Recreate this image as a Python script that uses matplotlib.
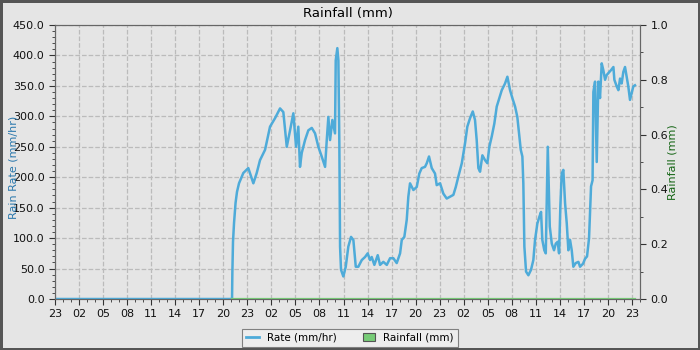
import matplotlib
matplotlib.use('Agg')
import matplotlib.pyplot as plt
from matplotlib.ticker import MultipleLocator, FuncFormatter
from matplotlib.patches import Patch
from matplotlib.lines import Line2D

# hours since 23:00 on day 1
hours = [0, 22.09, 22.13, 22.21, 22.34, 22.53, 22.71, 22.96, 23.50, 24.12, 24.75,
         25.17, 25.58, 26.21, 26.83, 27.46, 28.08, 28.49, 28.92, 29.33, 29.74,
         30.08, 30.36, 30.57, 30.79, 31.20, 31.61, 32.04, 32.45, 32.86, 33.28,
         33.70, 33.91, 34.11, 34.32, 34.61, 34.94, 35.03, 35.23, 35.36, 35.48,
         35.57, 35.69, 35.98, 36.28, 36.60, 36.94, 37.23, 37.53, 37.85, 38.28,
         38.69, 39.02, 39.31, 39.52, 39.85, 40.27, 40.56, 40.97, 41.40, 41.81,
         42.22, 42.64, 43.06, 43.27, 43.59, 43.89, 44.09, 44.30, 44.72, 45.14,
         45.46, 45.76, 46.17, 46.39, 46.67, 47.01, 47.42, 47.63, 48.05, 48.46,
         48.88, 49.29, 49.71, 50.01, 50.33, 50.76, 51.17, 51.45, 51.79, 52.13,
         52.41, 52.62, 52.83, 53.04, 53.33, 53.66, 53.95, 54.20, 54.50, 54.82,
         55.12, 55.45, 55.75, 56.16, 56.45, 56.78, 57.07, 57.41, 57.69, 57.91,
         58.12, 58.32, 58.44, 58.57, 58.78, 59.07, 59.40, 59.69, 59.90, 60.19,
         60.44, 60.65, 60.81, 61.06, 61.24, 61.36, 61.49, 61.61, 61.74, 61.99,
         62.27, 62.49, 62.73, 62.90, 63.06, 63.23, 63.43, 63.65, 63.86, 64.06,
         64.27, 64.48, 64.68, 64.98, 65.31, 65.52, 65.89, 66.14, 66.39, 66.64,
         66.89, 67.08, 67.18, 67.39, 67.60, 67.80, 68.01, 68.22, 68.42, 68.64,
         68.85, 69.05, 69.39, 69.68, 69.80, 70.10, 70.30, 70.51, 70.71, 70.92,
         71.13, 71.34, 71.54, 71.75, 71.96, 72.16, 72.37]
rate = [0, 0, 43, 94, 125, 158, 176, 190, 207, 215, 190,
        207, 228, 245, 283, 297, 313, 307, 250, 277, 305,
        250, 283, 217, 240, 261, 277, 281, 272, 250, 234,
        217, 261, 299, 261, 294, 272, 392, 412, 392, 256,
        86, 48, 37, 53, 86, 102, 97, 53, 53, 64,
        69, 75, 64, 69, 56, 72, 56, 61, 56, 67,
        67, 59, 75, 97, 102, 130, 168, 190, 179, 184,
        206, 215, 217, 223, 234, 215, 206, 187, 190, 173,
        165, 168, 171, 184, 201, 223, 256, 283, 297, 308,
        294, 261, 215, 209, 236, 228, 223, 250, 267, 288,
        316, 330, 343, 354, 365, 343, 330, 316, 299, 272,
        245, 234, 190, 86, 45, 39, 48, 64, 97, 124,
        135, 143, 97, 80, 75, 163, 250, 190, 119, 91,
        80, 91, 94, 75, 152, 206, 212, 157, 124, 80,
        97, 80, 53, 59, 61, 53, 58, 66, 70, 100,
        185, 195, 340, 357, 225, 357, 330, 387, 376, 360,
        368, 371, 376, 381, 360, 349, 343, 362, 354, 373,
        381, 365, 349, 327, 338, 349, 351]

rain_hours = [22.09, 72.37]
rainfall = [0.0, 0.0]

bg = '#e5e5e5'
fig = plt.figure(figsize=(7, 3.5), dpi=100, facecolor=bg, edgecolor='#555555', linewidth=2.5)
ax = fig.add_axes([0.0786, 0.1457, 0.8357, 0.7829], facecolor=bg)
ax2 = ax.twinx()

ax.plot(hours, rate, color='#4eabd9', lw=1.8, zorder=3)
ax2.plot(rain_hours, rainfall, color='#77cc77', lw=1.6)

ax.set_xlim(0, 73)
ax.set_ylim(0, 450)
ax2.set_ylim(0, 1.0)

ax.xaxis.set_major_locator(MultipleLocator(3))
ax.xaxis.set_minor_locator(MultipleLocator(1))
ax.xaxis.set_major_formatter(FuncFormatter(lambda v, p: '%02d' % ((23 + int(round(v))) % 24)))
ax.yaxis.set_major_locator(MultipleLocator(50))
ax.yaxis.set_minor_locator(MultipleLocator(10))
ax.yaxis.set_major_formatter(FuncFormatter(lambda v, p: '%.1f' % v))
ax2.yaxis.set_major_locator(MultipleLocator(0.2))
ax2.yaxis.set_minor_locator(MultipleLocator(0.1))
ax2.yaxis.set_major_formatter(FuncFormatter(lambda v, p: '%.1f' % v))

for a in (ax, ax2):
    a.tick_params(which='both', labelsize=8, color='#333333', labelcolor='#111111')
    a.tick_params(which='major', length=4)
    a.tick_params(which='minor', length=2.5)
    for s in a.spines.values():
        s.set_color('#666666')
        s.set_linewidth(0.8)

ax.grid(True, which='major', ls='--', color='#bbbbbb', lw=0.9)
ax.set_axisbelow(True)

ax.set_title('Rainfall (mm)', fontsize=9.5, pad=6)
ax.set_ylabel('Rain Rate (mm/hr)', color='#2a78ad', fontsize=8)
ax.yaxis.set_label_coords(-0.062, 0.48)
ax2.set_ylabel('Rainfall (mm)', color='#166616', fontsize=8)
ax2.yaxis.set_label_coords(1.047, 0.5)

handles = [Line2D([], [], color='#4eabd9', lw=2),
           Patch(facecolor='#77cc77', edgecolor='#555555', lw=0.8)]
leg = fig.legend(handles, ['Rate (mm/hr)', 'Rainfall (mm)'], loc='lower center',
                 bbox_to_anchor=(0.5, 0.0), ncol=2, fontsize=7.5, frameon=True,
                 fancybox=False, edgecolor='#666666', facecolor='#f0f0f0',
                 handlelength=1.2, handleheight=0.8, columnspacing=2.5, borderaxespad=0.3)
leg.get_frame().set_linewidth(0.8)

fig.savefig('out.png', dpi=100, facecolor=bg, edgecolor='#555555')
